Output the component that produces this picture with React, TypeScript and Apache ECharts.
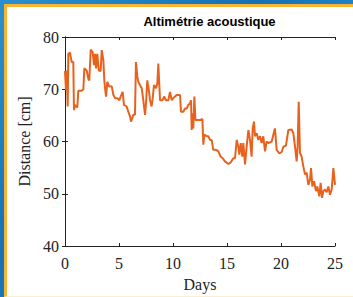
import React, { useEffect, useRef } from "react";
import * as echarts from "echarts";

const days: number[] = [
  0, 0.09, 0.15, 0.25, 0.31, 0.46, 0.62, 0.77, 0.83, 0.93, 1.14, 1.23, 1.54, 1.7, 1.79, 2.01,
  2.16, 2.25, 2.38, 2.56, 2.69, 2.78, 2.87, 2.99, 3.12, 3.3, 3.4, 3.55, 3.64, 3.73, 3.8, 3.92,
  4.1, 4.32, 4.48, 4.63, 4.85, 5.03, 5.15, 5.34, 5.46, 5.71, 5.86, 6.02, 6.11, 6.33, 6.48, 6.57,
  6.7, 6.79, 6.94, 7.1, 7.25, 7.41, 7.5, 7.62, 7.78, 7.87, 8.02, 8.12, 8.24, 8.43, 8.55, 8.64,
  8.8, 9.04, 9.17, 9.35, 9.57, 9.72, 9.88, 10.03, 10.19, 10.34, 10.65, 10.74, 10.96, 11.11,
  11.27, 11.42, 11.57, 11.67, 11.73, 11.82, 11.88, 11.98, 12.07, 12.25, 12.5, 12.72, 12.81,
  12.9, 13.12, 13.27, 13.43, 13.58, 13.73, 13.98, 14.2, 14.41, 14.6, 14.81, 15.12, 15.34,
  15.59, 15.74, 15.9, 16.05, 16.14, 16.27, 16.42, 16.51, 16.67, 16.82, 16.98, 17.13, 17.28,
  17.38, 17.5, 17.59, 17.75, 17.9, 18.06, 18.21, 18.36, 18.52, 18.67, 18.83, 19.14, 19.29,
  19.44, 19.6, 19.85, 20.06, 20.22, 20.46, 20.68, 20.99, 21.14, 21.3, 21.45, 21.54, 21.64,
  21.76, 21.91, 22.07, 22.22, 22.38, 22.53, 22.69, 22.78, 22.9, 23.06, 23.24, 23.36, 23.55,
  23.67, 23.8, 23.92, 24.07, 24.23, 24.38, 24.54, 24.69, 24.85, 25.0,
];

const distance: number[] = [
  73.5, 69.8, 73.6, 66.7, 76.8, 77, 75.2, 75.2, 66, 67, 66.5, 69.7, 69.7, 70, 74, 73.6,
  72, 71.7, 77.6, 77.1, 74.6, 76.8, 74, 76.8, 73.6, 73.5, 77.5, 75.6, 71.7, 69.8, 68.6, 71.4,
  70.5, 70.6, 68.9, 68.3, 68.3, 67.9, 68.6, 69.5, 67, 66.7, 65.7, 64.8, 63.8, 65.1, 65.1, 75.2,
  72.4, 71.4, 70.8, 70.2, 67.9, 65.1, 67.3, 71.7, 69.5, 67.9, 66.7, 68.3, 70.8, 70.2, 71.1, 74.9,
  67.9, 67.9, 68.6, 67.9, 67.9, 69.5, 67.9, 68.3, 68.6, 68.9, 68.9, 65.7, 65.7, 66.3,
  66.3, 67, 67.3, 67.9, 62.2, 65.4, 62.5, 68.6, 64.1, 64.1, 64.1, 64.3, 59.4,
  61.3, 61, 61, 60.3, 60.3, 58.4, 58.4, 58.1, 57.1, 56.8, 56.2, 55.7, 56,
  56.8, 56.8, 60.3, 59, 57.5, 59.7, 57.1, 59.7, 55.6, 59, 62.2, 60.3, 57.1,
  62.5, 63.8, 61, 61.6, 60.3, 61, 59.7, 61, 58.1, 60, 59.7, 60, 61.3,
  62.5, 58.4, 57.7, 58, 59, 59.2, 62.2, 62.3, 61.6, 59, 56.2, 59, 67.6,
  57.8, 57.1, 55.2, 53.7, 54, 51.7, 52.7, 54.9, 51.4, 52.4, 50.5, 51.4, 49.5,
  52.1, 49.2, 50.5, 50.8, 50.3, 51.4, 49.8, 50.8, 54.9, 51.7,
];

const title = "Altimétrie acoustique";
const xName = "Days";
const yName = "Distance [cm]";

export default function App() {
  const ref = useRef<HTMLDivElement>(null);
  useEffect(() => {
    if (!ref.current) return;
    const chart = echarts.init(ref.current, undefined, { renderer: "svg" });
    const axisCol = "#222";
    const serif = "'Liberation Serif', 'Times New Roman', serif";
    chart.setOption({
      animation: false,
      backgroundColor: "transparent",
      grid: { left: 65, right: 18, top: 37, bottom: 50, show: false },
      graphic: [
        {
          type: "text",
          x: 209.5,
          y: 21,
          style: {
            text: title,
            textAlign: "center",
            textVerticalAlign: "middle",
            font: "bold 13px 'Liberation Sans', Arial, sans-serif",
            fill: "#000",
          },
        },
      ],
      xAxis: [
        {
          type: "value",
          min: 0,
          max: 25,
          interval: 5,
          position: "bottom",
          name: xName,
          nameLocation: "middle",
          nameGap: 30,
          nameTextStyle: { fontFamily: serif, fontSize: 16, color: "#222" },
          axisLine: { show: true, lineStyle: { color: axisCol, width: 1 } },
          axisTick: { show: true, inside: true, length: 3, lineStyle: { color: axisCol } },
          axisLabel: { fontFamily: serif, fontSize: 16, color: "#222", margin: 9 },
          splitLine: { show: false },
        },
        {
          type: "value",
          min: 0,
          max: 25,
          interval: 5,
          position: "top",
          axisLine: { show: true, lineStyle: { color: axisCol, width: 1 } },
          axisTick: { show: true, inside: true, length: 3, lineStyle: { color: axisCol } },
          axisLabel: { show: false },
          splitLine: { show: false },
        },
      ],
      yAxis: [
        {
          type: "value",
          min: 40,
          max: 80,
          interval: 10,
          position: "left",
          name: yName,
          nameLocation: "middle",
          nameGap: 32,
          nameRotate: 90,
          nameTextStyle: { fontFamily: serif, fontSize: 16, color: "#222" },
          axisLine: { show: true, lineStyle: { color: axisCol, width: 1 } },
          axisTick: { show: true, inside: true, length: 3, lineStyle: { color: axisCol } },
          axisLabel: { fontFamily: serif, fontSize: 16, color: "#222", margin: 6 },
          splitLine: { show: false },
        },
        {
          type: "value",
          min: 40,
          max: 80,
          interval: 10,
          position: "right",
          axisLine: { show: true, lineStyle: { color: axisCol, width: 1 } },
          axisTick: { show: true, inside: true, length: 3, lineStyle: { color: axisCol } },
          axisLabel: { show: false },
          splitLine: { show: false },
        },
      ],
      series: [
        {
          type: "line",
          xAxisIndex: 0,
          yAxisIndex: 0,
          data: days.map((d, i) => [d, distance[i]]),
          showSymbol: false,
          lineStyle: { color: "#E8621E", width: 2 },
          itemStyle: { color: "#E8621E" },
        },
      ],
    });
    return () => chart.dispose();
  }, []);

  return (
    <div
      style={{
        position: "absolute",
        left: 0,
        top: 0,
        width: 353,
        height: 297,
        overflow: "hidden",
        background: "linear-gradient(135deg, #2a8fd0 0%, #1670b5 40%, #2b93d6 70%, #1a74b8 100%)",
      }}
    >
      <div
        style={{
          position: "absolute",
          left: 4,
          top: 4,
          width: 360,
          height: 293,
          background: "#fff",
          borderTop: "3px solid #F8B531",
          borderLeft: "3px solid #F8B531",
          borderBottom: "1px solid #FBEFD2",
          boxSizing: "border-box",
        }}
      />
      <div ref={ref} style={{ position: "absolute", left: 0, top: 0, width: 353, height: 297 }} />
    </div>
  );
}
